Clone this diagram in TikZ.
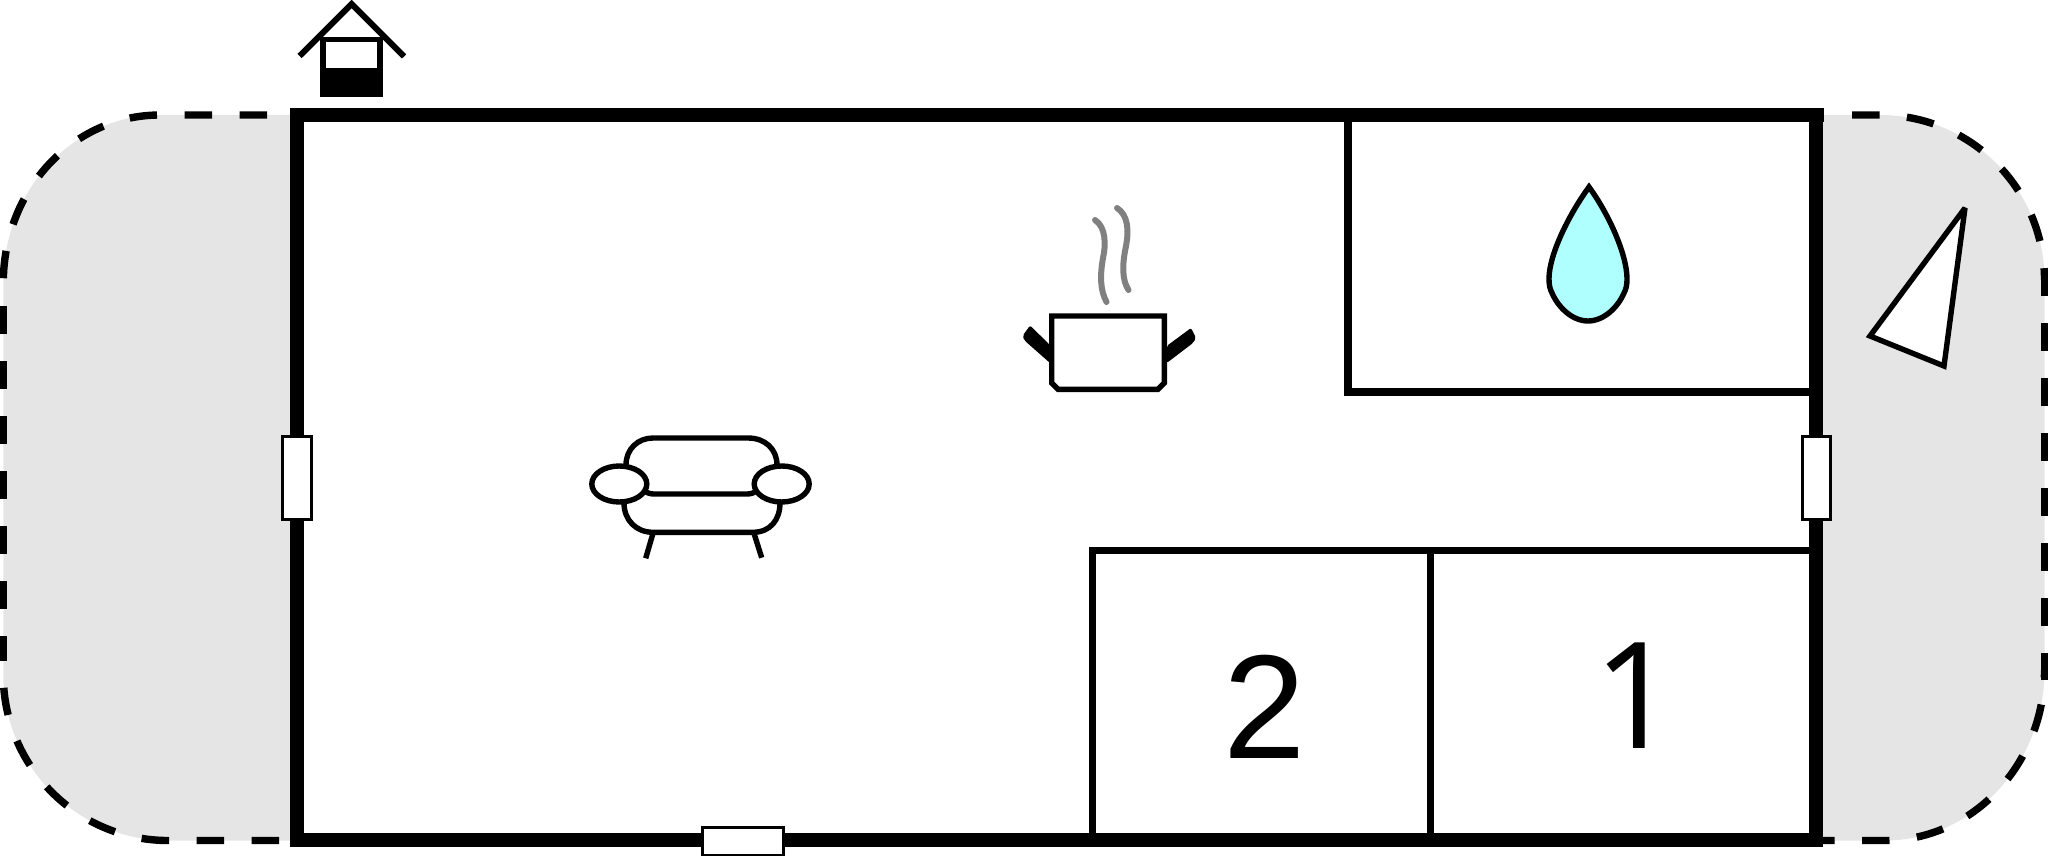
\documentclass[tikz,border=0pt]{standalone}
\usepackage{fontspec}
\setmainfont{Liberation Sans}
\newfontfamily\onefont{Open Sans}
\definecolor{yardgray}{HTML}{E5E5E5}
\definecolor{dropblue}{HTML}{B0FFFF}
\definecolor{steamgray}{HTML}{808080}
\tikzset{
  yard/.style={fill=yardgray,draw=none},
  fence/.style={draw=black,line width=7.4pt,dash pattern=on 27.5pt off 27.5pt},
  outerwall/.style={draw=black,line width=14pt},
  innerwall/.style={draw=black,line width=7.4pt},
  windowbox/.style={draw=black,fill=white,line width=3pt},
  icon/.style={draw=black,line width=5.4pt,miter limit=3},
  steam/.style={draw=steamgray,line width=6pt,line cap=round},
  roomnum/.style={anchor=base,inner sep=0pt,font=\fontsize{148}{148}\selectfont}
}
\begin{document}
\begin{tikzpicture}[x=1pt,y=-1pt]
\useasboundingbox (0,0) rectangle (2048,856);
% yards
\path[yard] (290,115) -- (160,115) .. controls (73,115) and (3.3,190) .. (3.3,283)
  -- (3.3,675) .. controls (3.3,766) and (77,840.5) .. (168,840.5) -- (290,840.5) -- cycle;
\path[yard] (1816,115) -- (1880,115) .. controls (1971,115) and (2044.5,189) .. (2044.5,280)
  -- (2044.5,670) .. controls (2044.5,764) and (1973,840.5) .. (1885,840.5) -- (1816,840.5) -- cycle;
% fences
\draw[fence] (267,115) -- (160,115) .. controls (73,115) and (3.3,190) .. (3.3,283);
\draw[fence] (3.3,306) -- (3.3,661);
\draw[fence] (279,840.5) -- (168,840.5) .. controls (77,840.5) and (3.3,766) .. (3.3,675);
\draw[fence] (1852,115) -- (1880,115) .. controls (1971,115) and (2044.5,189) .. (2044.5,280);
\draw[fence,dash phase=12pt] (2044.5,280) -- (2044.5,680);
\draw[fence] (1807,840.5) -- (1885,840.5) .. controls (1973,840.5) and (2044.5,764) .. (2044.5,670);
% inner walls
\draw[innerwall] (1348,115) -- (1348,392) -- (1816,392);
\draw[innerwall] (1092.7,840) -- (1092.7,550.5) -- (1816,550.5);
\draw[innerwall] (1430.7,547) -- (1430.7,840);
% outer walls
\draw[outerwall] (290,115) -- (1824,115);
\draw[outerwall] (290,840) -- (1823,840);
\draw[outerwall] (297,108) -- (297,847);
\draw[outerwall] (1816.3,108) -- (1816.3,847);
% windows
\draw[windowbox] (282.5,436.5) rectangle (311,519.5);
\draw[windowbox] (1802.5,436.5) rectangle (1830.5,519.5);
\draw[windowbox] (702,827) rectangle (783,855);
% house
\fill[black] (320,36.7) rectangle (382.7,97.3);
\fill[white] (325.7,42.3) rectangle (377.3,67.7);
\draw[black,line width=6pt,miter limit=10] (299.5,56) -- (351.7,4) -- (404,56.5);
% sofa
\draw[icon] (626,465) .. controls (626,449) and (638,438) .. (653,438) -- (748,438) .. controls (765,438) and (777,449) .. (777,465);
\draw[icon] (624,503) .. controls (624,520) and (636,532.3) .. (653,532.3) -- (753,532.3) .. controls (770,532.3) and (780,520) .. (780,503);
\draw[icon] (646,492) .. controls (650,494) and (652,494) .. (656,494) -- (745,494) .. controls (749,494) and (751,494) .. (755,492);
\draw[icon] (652.7,534.3) -- (645.7,558.3);
\draw[icon] (754.3,534.3) -- (761.7,557.7);
\draw[icon,fill=white] (619.3,484) ellipse [x radius=27.5,y radius=18];
\draw[icon,fill=white] (781.7,484) ellipse [x radius=27.5,y radius=18];
% pot
\fill[black,rounded corners=2pt] (1050,345) -- (1030,325.5) -- (1022.5,336) -- (1024.5,340.5) -- (1050,363) -- cycle;
\fill[black,rounded corners=2pt] (1166.7,346) -- (1191,328) -- (1196,338) -- (1193,343) -- (1166.7,363) -- cycle;
\draw[icon,fill=white] (1051.7,316) -- (1164.3,316) -- (1164.3,383) -- (1158,389.3) -- (1058,389.3) -- (1051.7,383) -- cycle;
\draw[steam] (1095,220) .. controls (1106,227) and (1106,245) .. (1103,258) .. controls (1100,275) and (1100,290) .. (1106.5,302);
\draw[steam] (1117,208) .. controls (1128,215) and (1129,230) .. (1126,246) .. controls (1122,265) and (1122,280) .. (1128.5,290);
% drop
\draw[icon,fill=dropblue,miter limit=10] (1589,187) .. controls (1570,213) and (1549.5,253) .. (1549,278)
  .. controls (1549,286) and (1550,289) .. (1552,293) .. controls (1558,307) and (1572,321) .. (1588,321)
  .. controls (1604,321) and (1618,307) .. (1624,293) .. controls (1626,289) and (1627,286) .. (1627,278)
  .. controls (1626.5,253) and (1608,213) .. (1589,187) -- cycle;
% triangle
\draw[icon,fill=white] (1965,208) -- (1870,336) -- (1944,366) -- cycle;
% room numbers
\node[roomnum] (room2) at (1264.5,758) {2};
\node[roomnum,font=\fontsize{148}{148}\selectfont\onefont] (room1) at (1636,748) {1};
\end{tikzpicture}
\end{document}
